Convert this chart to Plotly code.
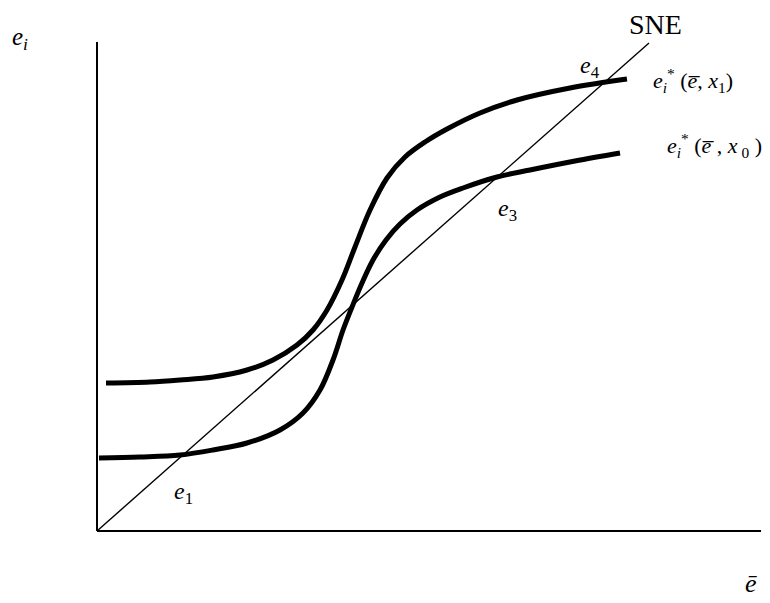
import plotly.graph_objects as go

# ---- data (ē on x, e_i on y; SNE is the 45° line) ----
upper_x = [1.63, 9.60, 15.04, 21.01, 27.17, 31.88, 36.23, 39.13, 41.67, 44.38, 46.74, 49.46,
           52.54, 55.80, 59.42, 63.41, 69.38, 76.09, 85.69, 96.01]
upper_y = [30.33, 30.53, 30.94, 31.56, 32.99, 35.04, 38.11, 41.19, 45.29, 51.43, 58.20, 65.78,
           72.34, 76.64, 79.71, 82.38, 85.66, 88.32, 90.78, 92.62]

lower_x = [0.36, 7.79, 15.04, 21.01, 27.17, 33.15, 37.32, 40.40, 42.75, 44.57, 46.20, 48.01,
           50.00, 52.36, 54.89, 57.97, 62.14, 66.30, 72.46, 78.44, 86.59, 94.75]
lower_y = [14.96, 15.16, 15.57, 16.60, 18.03, 20.70, 24.18, 28.89, 35.04, 41.19, 45.90, 50.82,
           55.53, 59.63, 62.91, 65.78, 68.44, 70.29, 72.54, 73.98, 75.82, 77.46]

sne_x = [0, 100]
sne_y = [0, 100]

xaxis_end = 120.3
yaxis_end = 100.2

FONT = "Liberation Serif"

fig = go.Figure()

# axes
fig.add_trace(go.Scatter(x=[0, xaxis_end], y=[0, 0], mode="lines",
                         line=dict(color="black", width=2), hoverinfo="skip"))
fig.add_trace(go.Scatter(x=[0, 0], y=[0, yaxis_end], mode="lines",
                         line=dict(color="black", width=2), hoverinfo="skip"))
# SNE line
fig.add_trace(go.Scatter(x=sne_x, y=sne_y, mode="lines",
                         line=dict(color="black", width=1.4), hoverinfo="skip"))
# curves
fig.add_trace(go.Scatter(x=upper_x, y=upper_y, mode="lines", line_shape="spline",
                         line=dict(color="black", width=5, smoothing=1.0), hoverinfo="skip"))
fig.add_trace(go.Scatter(x=lower_x, y=lower_y, mode="lines", line_shape="spline",
                         line=dict(color="black", width=5, smoothing=1.0), hoverinfo="skip"))

labels = [
    (-13.9, 101.0, "<i>e<sub>i</sub></i>", 25),
    (15.6, 7.8, "<i>e</i><sub>1</sub>", 24),
    (74.3, 65.8, "<i>e</i><sub>3</sub>", 24),
    (89.3, 95.1, "<i>e</i><sub>4</sub>", 24),
    (101.1, 103.7, "SNE", 28),
    (108.0, 92.4, "<i>e</i><sub><i>i</i></sub><sup>*</sup> (<i>e̅</i>, <i>x</i><sub>1</sub>)", 22),
    (111.8, 78.9, "<i>e</i><sub><i>i</i></sub><sup>*</sup> (<i>e̅</i> , <i>x</i><sub> 0</sub> )", 22),
    (118.5, -10.7, "<i>ē</i>", 26),
]
for x, y, t, s in labels:
    fig.add_annotation(x=x, y=y, xref="x", yref="y", text=t, showarrow=False,
                       font=dict(family=FONT, size=s, color="black"),
                       xanchor="center", yanchor="middle")

fig.update_layout(
    width=770, height=603,
    margin=dict(l=0, r=0, t=0, b=0),
    plot_bgcolor="white", paper_bgcolor="white",
    showlegend=False,
    xaxis=dict(range=[-16.123, 123.37], visible=False, fixedrange=True),
    yaxis=dict(range=[-16.39, 107.17], visible=False, fixedrange=True),
)

fig.write_html("out.html")
